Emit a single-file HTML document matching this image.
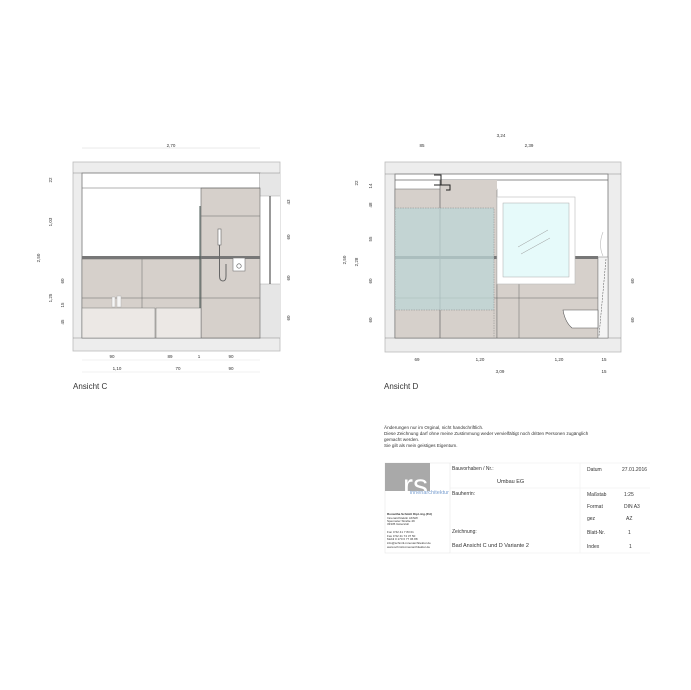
<!DOCTYPE html>
<html><head><meta charset="utf-8"><style>
html,body{margin:0;padding:0;background:#fff}
svg{display:block}
text{font-family:"Liberation Sans",sans-serif;fill:#333}
</style></head><body>
<svg width="691" height="690" viewBox="0 0 691 690" xmlns="http://www.w3.org/2000/svg">
<!-- ============ ANSICHT C ============ -->
<g>
<rect x="73" y="162" width="207" height="189" fill="#ededed" stroke="#bbb" stroke-width="0.8"/>
<rect x="82" y="173" width="178" height="165" fill="#fff" stroke="#777" stroke-width="0.8"/>
<rect x="260" y="173" width="20" height="23" fill="#e6e6e6"/>
<rect x="260" y="196" width="20" height="88" fill="#fff"/>
<rect x="260" y="284" width="20" height="54" fill="#e6e6e6"/>
<line x1="73" y1="173" x2="280" y2="173" stroke="#888" stroke-width="0.6"/>
<line x1="73" y1="338" x2="280" y2="338" stroke="#888" stroke-width="0.6"/>
<line x1="260" y1="196" x2="280" y2="196" stroke="#aaa" stroke-width="0.5"/>
<line x1="260" y1="284" x2="280" y2="284" stroke="#aaa" stroke-width="0.5"/>
<line x1="270" y1="196" x2="270" y2="284" stroke="#333" stroke-width="1"/>
<!-- tiles -->
<rect x="201" y="188" width="59" height="150" fill="#d6d0cb" stroke="#666" stroke-width="0.6"/>
<line x1="82" y1="188" x2="260" y2="188" stroke="#666" stroke-width="0.6"/>
<line x1="201" y1="216" x2="260" y2="216" stroke="#666" stroke-width="0.5"/>
<rect x="82" y="259" width="119" height="79" fill="#d6d0cb" stroke="#666" stroke-width="0.5"/>
<rect x="82" y="256" width="178" height="3" fill="#777"/>
<line x1="142" y1="259" x2="142" y2="308" stroke="#666" stroke-width="0.5"/>
<line x1="82" y1="298" x2="260" y2="298" stroke="#666" stroke-width="0.5"/>
<rect x="82" y="308" width="73" height="30" fill="#ece8e5" stroke="#777" stroke-width="0.5"/>
<rect x="156" y="308" width="45" height="30" fill="#ece8e5" stroke="#777" stroke-width="0.5"/>
<line x1="200" y1="206" x2="200" y2="308" stroke="#4a5a55" stroke-width="1"/>
<rect x="112" y="297" width="3" height="10" fill="#f5f5f5" stroke="#aaa" stroke-width="0.4"/>
<rect x="117" y="296" width="4" height="11" fill="#f5f5f5" stroke="#aaa" stroke-width="0.4"/>
<!-- shower -->
<rect x="218" y="229" width="3" height="16" fill="#fff" stroke="#666" stroke-width="0.6"/>
<path d="M219.5 245 V276 Q219.5 281 223 281 Q226 281 226 276 V264" fill="none" stroke="#666" stroke-width="1"/>
<rect x="233" y="258" width="12" height="13" fill="#fff" stroke="#777" stroke-width="0.6"/>
<circle cx="239" cy="266" r="2.2" fill="none" stroke="#555" stroke-width="0.6"/>
<!-- dims -->
<g font-size="4.5" text-anchor="middle">
<text x="171" y="147">2,70</text>
<line x1="82" y1="148" x2="260" y2="148" stroke="#ccc" stroke-width="0.4"/>
<text x="112" y="358">90</text><text x="170" y="358">89</text><text x="199" y="358">1</text><text x="231" y="358">90</text>
<text x="117" y="370">1,10</text><text x="178" y="370">70</text><text x="231" y="370">90</text>
<line x1="82" y1="360" x2="260" y2="360" stroke="#ddd" stroke-width="0.4"/>
<line x1="82" y1="372" x2="260" y2="372" stroke="#ddd" stroke-width="0.4"/>
<g transform="rotate(-90)">
<text x="-180" y="52">22</text><text x="-222" y="52">1,03</text><text x="-298" y="52">1,25</text>
<text x="-281" y="64">60</text><text x="-305" y="64">15</text><text x="-322" y="64">45</text>
<text x="-258" y="40">2,50</text>
<text x="-202" y="290">43</text><text x="-237" y="290">60</text><text x="-278" y="290">60</text><text x="-318" y="290">60</text>
</g>
</g>
<text x="73" y="389" font-size="8">Ansicht C</text>
</g>
<!-- ============ ANSICHT D ============ -->
<g>
<rect x="385" y="162" width="236" height="190" fill="#ededed" stroke="#bbb" stroke-width="0.8"/>
<rect x="395" y="174" width="213" height="164" fill="#fff" stroke="#777" stroke-width="0.8"/>
<line x1="385" y1="174" x2="621" y2="174" stroke="#888" stroke-width="0.6"/>
<line x1="385" y1="338" x2="621" y2="338" stroke="#888" stroke-width="0.6"/>
<line x1="395" y1="180" x2="608" y2="180" stroke="#666" stroke-width="0.8"/>
<rect x="395" y="189" width="102" height="149" fill="#d6d0cb" stroke="#666" stroke-width="0.5"/>
<rect x="440" y="180" width="57" height="10" fill="#d6d0cb"/>
<rect x="497" y="257" width="101" height="81" fill="#d6d0cb" stroke="#666" stroke-width="0.5"/>
<line x1="440" y1="180" x2="440" y2="338" stroke="#666" stroke-width="0.7"/>
<line x1="395" y1="298" x2="598" y2="298" stroke="#666" stroke-width="0.5"/>
<line x1="519" y1="284" x2="519" y2="338" stroke="#666" stroke-width="0.5"/>
<rect x="395" y="256" width="203" height="3" fill="#777"/>
<rect x="395" y="208" width="99" height="102" fill="#bcd6d6" fill-opacity="0.75" stroke="#888" stroke-width="0.5" stroke-dasharray="1.5,1"/>
<line x1="494" y1="310" x2="494" y2="338" stroke="#888" stroke-width="0.5" stroke-dasharray="1.5,1"/>
<path d="M434 175 H441 V185 H450 V190 H446 M434 185 H441" fill="none" stroke="#222" stroke-width="1"/>
<rect x="497" y="197" width="78" height="87" fill="#fff" stroke="#bbb" stroke-width="0.6"/>
<rect x="503" y="203" width="66" height="74" fill="#e6fafa" stroke="#aaa" stroke-width="0.5"/>
<line x1="518" y1="247" x2="548" y2="230" stroke="#999" stroke-width="0.5"/>
<line x1="521" y1="254" x2="550" y2="238" stroke="#999" stroke-width="0.5"/>
<rect x="598" y="257" width="10" height="81" fill="#f4f4f4" stroke="#777" stroke-width="0.5"/>
<line x1="606" y1="259" x2="599" y2="336" stroke="#555" stroke-width="0.5" stroke-dasharray="2,1"/>
<path d="M563 310 H598 V328 H572 Q565 322 563 310Z" fill="#fff" stroke="#555" stroke-width="0.6"/>
<path d="M603 256 Q598 245 603 232" fill="none" stroke="#bbb" stroke-width="0.6"/>
<g font-size="4.5" text-anchor="middle">
<text x="501" y="137">3,24</text><text x="422" y="147">85</text><text x="529" y="147">2,39</text>
<text x="417" y="361">69</text><text x="480" y="361">1,20</text><text x="559" y="361">1,20</text><text x="604" y="361">15</text>
<text x="500" y="373">3,09</text><text x="604" y="373">15</text>
<g transform="rotate(-90)">
<text x="-260" y="346">2,50</text><text x="-262" y="358">2,28</text>
<text x="-183" y="358">22</text><text x="-186" y="372">14</text><text x="-205" y="372">48</text>
<text x="-239" y="372">55</text><text x="-281" y="372">60</text><text x="-320" y="372">60</text>
<text x="-281" y="634">60</text><text x="-320" y="634">60</text>
</g>
</g>
<text x="384" y="389" font-size="8">Ansicht D</text>
</g>
<!-- ============ NOTES / TITLE BLOCK ============ -->
<g font-size="4.6">
<text x="384" y="429">Änderungen nur im Orginal, nicht handschriftlich.</text>
<text x="384" y="435">Diese Zeichnung darf ohne meine Zustimmung weder vervielfältigt noch dritten Personen zugänglich</text>
<text x="384" y="441">gemacht werden.</text>
<text x="384" y="447">Sie gilt als mein geistiges Eigentum.</text>
</g>
<rect x="385" y="463" width="65" height="90" fill="#fff" stroke="#e6e6e6" stroke-width="0.6"/>
<rect x="385" y="463" width="45" height="28" fill="#a9a9a9"/>
<text x="403" y="495" font-size="30" fill="#fff" style="fill:#fff">rs</text>
<text x="449" y="494" font-size="5.5" text-anchor="end" style="fill:#7a9fd0">innenarchitektur</text>
<g font-size="3">
<text x="387" y="515" style="font-weight:bold">Roswitha Schmitt Dipl.-Ing.(FH)</text>
<text x="387" y="519">Innenarchitektin AKNW</text><text x="387" y="522">Spenneler Straße 49</text><text x="387" y="525">33335 Gütersloh</text>
<text x="387" y="533">Fon  0 52 41 7 83 01</text><text x="387" y="537">Fax  0 52 41 74 37 50</text><text x="387" y="540">Mobil 0 170 6 77 06 88</text>
<text x="387" y="544">info@schmitt-innenarchitektur.de</text><text x="387" y="548">www.schmitt-innenarchitektur.de</text>
</g>
<g stroke="#eee" stroke-width="0.6">
<line x1="450" y1="463" x2="650" y2="463"/><line x1="450" y1="488" x2="650" y2="488"/>
<line x1="450" y1="553" x2="650" y2="553"/><line x1="580" y1="463" x2="580" y2="553"/>
</g>
<g font-size="5">
<text x="452" y="470">Bauvorhaben / Nr.:</text>
<text x="497" y="483" font-size="5.5">Umbau EG</text>
<text x="452" y="495">Bauherrin:</text>
<text x="452" y="533">Zeichnung:</text>
<text x="452" y="547" font-size="5.5">Bad Ansicht C und D  Variante 2</text>
<text x="587" y="471">Datum</text><text x="622" y="471">27.01.2016</text>
<text x="587" y="496">Maßstab</text><text x="624" y="496">1:25</text>
<text x="587" y="508">Format</text><text x="624" y="508">DIN A3</text>
<text x="587" y="520">gez</text><text x="626" y="520">AZ</text>
<text x="587" y="534">Blatt-Nr.</text><text x="628" y="534">1</text>
<text x="587" y="548">Index</text><text x="629" y="548">1</text>
</g>
</svg>
</body></html>
